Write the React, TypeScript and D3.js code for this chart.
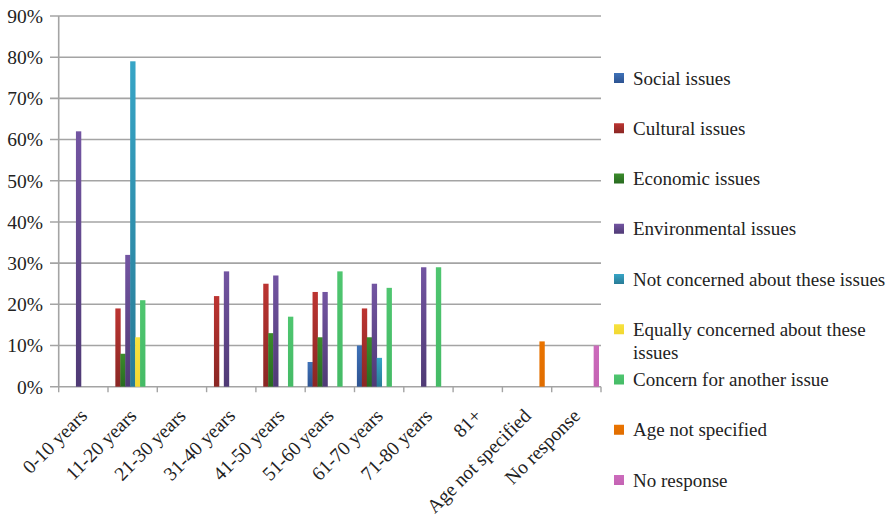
import React from "react";
import * as d3 from "d3";

const categories = [
  "0-10 years",
  "11-20 years",
  "21-30 years",
  "31-40 years",
  "41-50 years",
  "51-60 years",
  "61-70 years",
  "71-80 years",
  "81+",
  "Age not specified",
  "No response",
];

const seriesNames = [
  "Social issues",
  "Cultural issues",
  "Economic issues",
  "Environmental issues",
  "Not concerned about these issues",
  "Equally concerned about these issues",
  "Concern for another issue",
  "Age not specified",
  "No response",
];

// Percentages per age group, one array per series
const social = [0, 0, 0, 0, 0, 6, 10, 0, 0, 0, 0];
const cultural = [0, 19, 0, 22, 25, 23, 19, 0, 0, 0, 0];
const economic = [0, 8, 0, 0, 13, 12, 12, 0, 0, 0, 0];
const environmental = [62, 32, 0, 28, 27, 23, 25, 29, 0, 0, 0];
const notConcerned = [0, 79, 0, 0, 0, 0, 7, 0, 0, 0, 0];
const equallyConcerned = [0, 12, 0, 0, 0, 0, 0, 0, 0, 0, 0];
const anotherIssue = [0, 21, 0, 0, 17, 28, 24, 29, 0, 0, 0];
const ageNotSpecified = [0, 0, 0, 0, 0, 0, 0, 0, 0, 11, 0];
const noResponse = [0, 0, 0, 0, 0, 0, 0, 0, 0, 0, 10];

const yTicks = [0, 10, 20, 30, 40, 50, 60, 70, 80, 90];

const seriesValues = [
  social,
  cultural,
  economic,
  environmental,
  notConcerned,
  equallyConcerned,
  anotherIssue,
  ageNotSpecified,
  noResponse,
];

// [top, bottom] gradient stops for each series
const seriesColors: [string, string][] = [
  ["#3f72b8", "#2d5391"],
  ["#bc3431", "#8a2724"],
  ["#3b8c2b", "#286a20"],
  ["#7355a2", "#4f3a75"],
  ["#37a5c6", "#287b96"],
  ["#f7e23e", "#f2d832"],
  ["#4fc670", "#45bb66"],
  ["#ea7400", "#e06d00"],
  ["#cc6bbc", "#c463b3"],
];

const W = 889;
const H = 519;
const plotLeft = 58.7;
const plotRight = 601;
const plotTop = 16;
const plotBottom = 386.7;
const AXIS_FS = 19.5;
const LEGEND_FS = 19;
const SERIF = "Liberation Serif";

export default function App() {
  const x = d3.scaleBand<string>().domain(categories).range([plotLeft, plotRight]).padding(0);
  const bw = x.bandwidth();
  const inner = d3
    .scaleBand<string>()
    .domain(seriesNames)
    .range([2.4, bw - 2.4])
    .padding(0);
  const y = d3.scaleLinear().domain([0, 90]).range([plotBottom, plotTop]);
  const grid = "#a4a4a4";

  return (
    <svg
      width={W}
      height={H}
      fontFamily={SERIF}
      style={{ position: "absolute", left: 0, top: 0, background: "#fff", fontFamily: `"${SERIF}"` }}
    >
      <style>{`text { font-family: "${SERIF}", serif; }`}</style>
      <defs>
        {seriesColors.map((c, i) => (
          <linearGradient key={i} id={`g${i}`} x1="0" y1="0" x2="0" y2="1">
            <stop offset="0" stopColor={c[0]} />
            <stop offset="1" stopColor={c[1]} />
          </linearGradient>
        ))}
      </defs>

      {/* horizontal gridlines with left tick marks */}
      {yTicks.map((t) => (
        <line
          key={t}
          x1={50}
          x2={plotRight}
          y1={y(t)}
          y2={y(t)}
          stroke={grid}
          strokeWidth={1.6}
        />
      ))}
      {/* value axis */}
      <line x1={plotLeft} x2={plotLeft} y1={plotTop} y2={plotBottom} stroke={grid} strokeWidth={1.6} />
      {/* category tick marks */}
      {d3.range(categories.length + 1).map((i) => (
        <line
          key={i}
          x1={plotLeft + i * bw}
          x2={plotLeft + i * bw}
          y1={plotBottom}
          y2={plotBottom + 5.5}
          stroke={grid}
          strokeWidth={1.4}
        />
      ))}

      {/* bars */}
      {seriesValues.map((vals, s) =>
        vals.map((v, c) =>
          v > 0 ? (
            <rect
              key={`${s}-${c}`}
              x={(x(categories[c]) ?? 0) + (inner(seriesNames[s]) ?? 0)}
              y={y(v)}
              width={inner.bandwidth() + 0.4}
              height={y(0) - y(v)}
              fill={`url(#g${s})`}
            />
          ) : null
        )
      )}

      {/* y labels */}
      {yTicks.map((t) => (
        <text
          key={t}
          x={43}
          y={y(t)}
          dy="0.35em"
          textAnchor="end"
          fontSize={AXIS_FS}
          fill="#222"
        >
          {`${t}%`}
        </text>
      ))}

      {/* x labels */}
      {categories.map((c) => {
        const cx = (x(c) ?? 0) + bw / 2 + 5;
        const cy = 417;
        return (
          <text
            key={c}
            x={cx}
            y={cy}
            textAnchor="end"
            fontSize={AXIS_FS}
            fill="#222"
            transform={`rotate(-45 ${cx} ${cy})`}
          >
            {c}
          </text>
        );
      })}

      {/* legend */}
      {seriesNames.map((name, i) => {
        const ly = 78 + i * 50.25;
        const wrapped = name === "Equally concerned about these issues";
        return (
          <g key={name}>
            <rect x={614} y={ly - 5} width={10} height={10} fill={`url(#g${i})`} />
            {wrapped ? (
              <text x={633} y={ly} dy="0.35em" fontSize={LEGEND_FS} fill="#222">
                <tspan x={633}>Equally concerned about these</tspan>
                <tspan x={633} dy={23}>
                  issues
                </tspan>
              </text>
            ) : (
              <text x={633} y={ly} dy="0.35em" fontSize={LEGEND_FS} fill="#222">
                {name}
              </text>
            )}
          </g>
        );
      })}
    </svg>
  );
}
